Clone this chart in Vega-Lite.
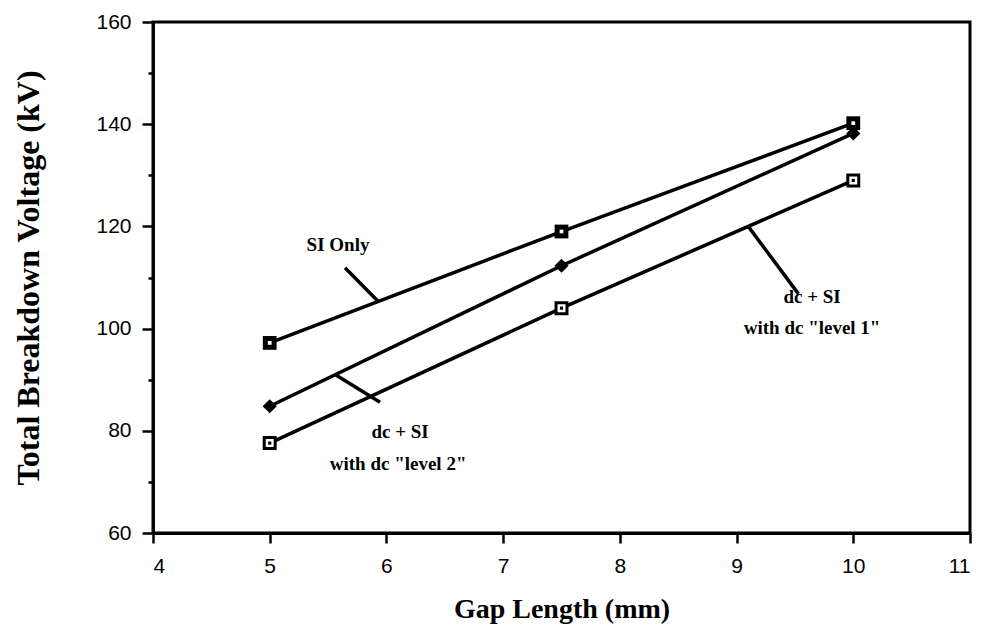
{
  "$schema": "https://vega.github.io/schema/vega-lite/v6.json",
  "width": 817,
  "height": 511,
  "autosize": {"type": "none"},
  "padding": {"left": 153, "top": 22, "right": 13, "bottom": 104},
  "background": "white",
  "config": {
    "view": {"stroke": "black", "strokeWidth": 3},
    "axis": {
      "domainColor": "black", "domainWidth": 3, "tickColor": "black", "tickWidth": 2.5,
      "grid": false, "labelFont": "Liberation Sans", "labelFontSize": 21, "labelColor": "black",
      "titleFont": "Liberation Serif", "titleFontWeight": "bold", "titleFontSize": 28, "titleColor": "black"
    }
  },
  "datasets": {
    "series": [
      {"series": "SI Only", "gap": 5, "voltage": 97.2},
      {"series": "SI Only", "gap": 7.5, "voltage": 119},
      {"series": "SI Only", "gap": 10, "voltage": 140.2},
      {"series": "level 2", "gap": 5, "voltage": 84.8},
      {"series": "level 2", "gap": 7.5, "voltage": 112.3},
      {"series": "level 2", "gap": 10, "voltage": 138.2},
      {"series": "level 1", "gap": 5, "voltage": 77.6},
      {"series": "level 1", "gap": 7.5, "voltage": 104},
      {"series": "level 1", "gap": 10, "voltage": 129}
    ],
    "leaders": [
      {"gap": 5.645, "voltage": 111.9, "gap2": 5.93, "voltage2": 105.3},
      {"gap": 5.56, "voltage": 91.0, "gap2": 5.945, "voltage2": 85.6},
      {"gap": 9.1, "voltage": 120.0, "gap2": 9.53, "voltage2": 106.8}
    ],
    "notes": [
      {"gap": 5.585, "voltage": 116.4, "text": "SI Only"},
      {"gap": 6.117, "voltage": 79.8, "text": "dc + SI"},
      {"gap": 6.10, "voltage": 73.5, "text": "with dc \"level 2\""},
      {"gap": 9.647, "voltage": 106.2, "text": "dc + SI"},
      {"gap": 9.647, "voltage": 100.1, "text": "with dc \"level 1\""}
    ]
  },
  "encoding": {
    "x": {
      "field": "gap", "type": "quantitative",
      "scale": {"domain": [4, 11], "nice": false, "zero": false},
      "axis": {
        "title": "Gap Length (mm)",
        "values": [4, 4.5, 5, 5.5, 6, 6.5, 7, 7.5, 8, 8.5, 9, 9.5, 10, 10.5, 11],
        "format": "d",
        "labelExpr": "datum.value % 1 === 0 ? datum.label : ''",
        "tickSize": {"condition": {"test": "datum.value % 1 === 0", "value": 10}, "value": 5},
        "labelPadding": 12,
        "titlePadding": 19
      }
    },
    "y": {
      "field": "voltage", "type": "quantitative",
      "scale": {"domain": [60, 160], "nice": false, "zero": false},
      "axis": {
        "title": "Total Breakdown Voltage (kV)",
        "titleFontSize": 32,
        "values": [60, 70, 80, 90, 100, 110, 120, 130, 140, 150, 160],
        "labelExpr": "datum.value % 20 === 0 ? datum.label : ''",
        "tickSize": {"condition": {"test": "datum.value % 20 === 0", "value": 11}, "value": 5},
        "labelPadding": 11,
        "titlePadding": 50
      }
    }
  },
  "layer": [
    {
      "data": {"name": "series"},
      "mark": {"type": "line", "color": "black", "strokeWidth": 3.5},
      "encoding": {"detail": {"field": "series"}}
    },
    {
      "data": {"name": "series"},
      "transform": [{"filter": "datum.series === 'SI Only'"}],
      "mark": {"type": "square", "color": "black", "filled": true, "size": 190, "opacity": 1}
    },
    {
      "data": {"name": "series"},
      "transform": [{"filter": "datum.series === 'SI Only'"}],
      "mark": {"type": "square", "color": "white", "filled": true, "size": 14, "opacity": 1}
    },
    {
      "data": {"name": "series"},
      "transform": [{"filter": "datum.series === 'level 2'"}],
      "mark": {"type": "point", "shape": "diamond", "color": "black", "filled": true, "size": 200, "opacity": 1}
    },
    {
      "data": {"name": "series"},
      "transform": [{"filter": "datum.series === 'level 1'"}],
      "mark": {"type": "square", "fill": "white", "stroke": "black", "strokeWidth": 3, "size": 120, "opacity": 1}
    },
    {
      "data": {"name": "series"},
      "transform": [{"filter": "datum.series === 'level 1'"}],
      "mark": {"type": "square", "color": "black", "filled": true, "size": 10, "opacity": 1}
    },
    {
      "data": {"name": "leaders"},
      "mark": {"type": "rule", "color": "black", "strokeWidth": 3.5},
      "encoding": {"x2": {"field": "gap2"}, "y2": {"field": "voltage2"}}
    },
    {
      "data": {"name": "notes"},
      "mark": {"type": "text", "font": "Liberation Serif", "fontWeight": "bold", "fontSize": 19, "color": "black", "align": "center", "baseline": "middle"},
      "encoding": {"text": {"field": "text"}}
    }
  ]
}
